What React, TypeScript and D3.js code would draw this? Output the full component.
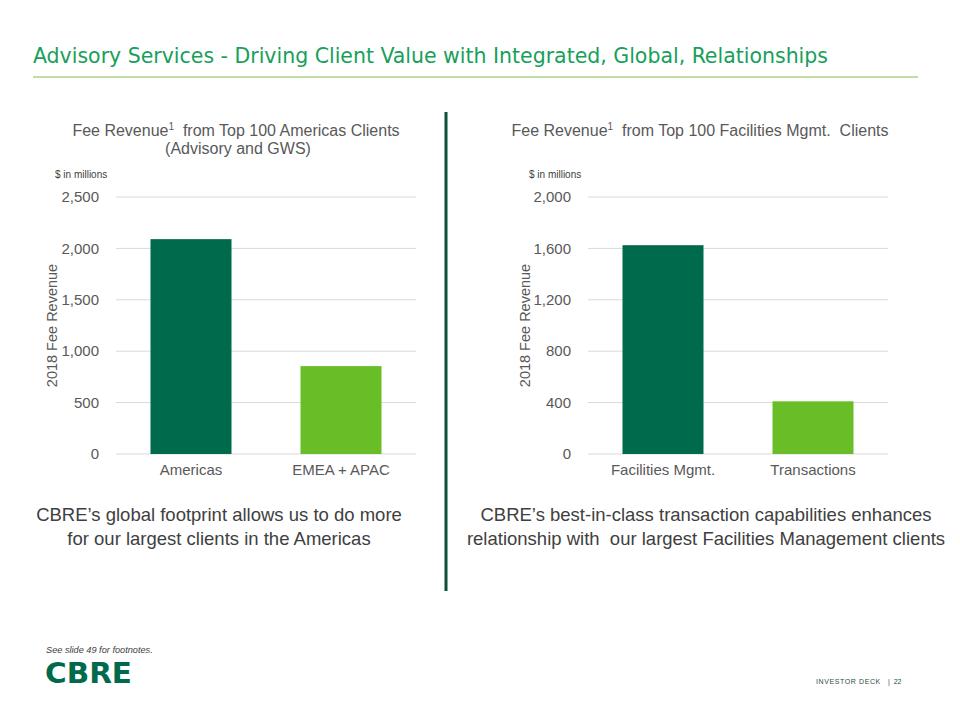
import React from 'react';
import * as d3 from 'd3';

const leftCategories = ['Americas', 'EMEA + APAC'];
const leftValues = [2090, 855];
const leftTicks = [0, 500, 1000, 1500, 2000, 2500];

const rightCategories = ['Facilities Mgmt.', 'Transactions'];
const rightValues = [1625, 410];
const rightTicks = [0, 400, 800, 1200, 1600, 2000];

const barColors = ['#006a4d', '#69be28'];

const font = '"Liberation Sans", Arial, sans-serif';
const gray = '#595959';

type PanelProps = {
    categories: string[];
    values: number[];
    ticks: number[];
    x0: number;
    x1: number;
    axisTitleX: number;
};

const top = 197;
const bottom = 454;

const BarPanel = ({ categories, values, ticks, x0, x1, axisTitleX }: PanelProps) => {
    const xScale = d3.scaleBand<string>()
        .domain(categories)
        .range([x0, x1])
        .paddingInner(0.46)
        .paddingOuter(0.23);

    const yScale = d3.scaleLinear()
        .domain([0, d3.max(ticks) as number])
        .range([bottom, top]);

    const fmt = d3.format(',');

    return (
        <g fontFamily={font}>
            {ticks.map(t => (
                <g key={t}>
                    <line x1={x0} x2={x1} y1={yScale(t)} y2={yScale(t)} stroke="#d9d9d9" strokeWidth={1} />
                    <text x={x0 - 17} y={yScale(t)} dy="0.35em" textAnchor="end" fontSize={15} fill={gray}>
                        {fmt(t)}
                    </text>
                </g>
            ))}
            {categories.map((c, i) => (
                <g key={c}>
                    <rect
                        x={xScale(c)}
                        y={yScale(values[i])}
                        width={xScale.bandwidth()}
                        height={bottom - yScale(values[i])}
                        fill={barColors[i]}
                    />
                    <text
                        x={(xScale(c) as number) + xScale.bandwidth() / 2}
                        y={475}
                        textAnchor="middle"
                        fontSize={15}
                        fill={gray}
                    >
                        {c}
                    </text>
                </g>
            ))}
            <text
                transform={`translate(${axisTitleX}, ${(top + bottom) / 2}) rotate(-90)`}
                dy="0.35em"
                textAnchor="middle"
                fontSize={14.5}
                fill={gray}
            >
                2018 Fee Revenue
            </text>
        </g>
    );
};

const App = () => {
    return (
        <svg width={960} height={720} style={{ position: 'fixed', left: 0, top: 0, background: '#fff' }}>
            <rect width={960} height={720} fill="#fff" />

            {/* slide title */}
            <text
                x={33}
                y={63}
                fontFamily='"DejaVu Sans Condensed", "Liberation Sans Narrow", "Noto Sans", sans-serif'
                fontSize={22}
                fill="#17a05a"
                textLength={795}
                lengthAdjust="spacingAndGlyphs"
            >
                Advisory Services - Driving Client Value with Integrated, Global, Relationships
            </text>
            <line x1={33} x2={918} y1={77} y2={77} stroke="#80bb4e" strokeWidth={1} />

            {/* divider */}
            <line x1={446} x2={446} y1={112} y2={591} stroke="#0d4f3c" strokeWidth={3} />

            {/* chart titles */}
            <g fontFamily={font} fontSize={16} fill={gray} textAnchor="middle">
                <text x={236} y={136}>
                    Fee Revenue<tspan fontSize={10} dy={-6}>1</tspan><tspan dy={6}>{'\u00a0 from Top 100 Americas Clients'}</tspan>
                </text>
                <text x={238} y={154}>(Advisory and GWS)</text>
                <text x={700} y={136}>
                    Fee Revenue<tspan fontSize={10} dy={-6}>1</tspan><tspan dy={6}>{'\u00a0 from Top 100 Facilities Mgmt.\u00a0 Clients'}</tspan>
                </text>
            </g>
            <g fontFamily={font} fontSize={10} fill="#404040">
                <text x={55} y={178}>$ in millions</text>
                <text x={529} y={178}>$ in millions</text>
            </g>

            <BarPanel categories={leftCategories} values={leftValues} ticks={leftTicks} x0={116} x1={416} axisTitleX={52} />
            <BarPanel categories={rightCategories} values={rightValues} ticks={rightTicks} x0={588} x1={888} axisTitleX={525} />

            {/* captions */}
            <g fontFamily={font} fontSize={18.5} fill="#404040" textAnchor="middle">
                <text x={219} y={521}>CBRE’s global footprint allows us to do more</text>
                <text x={219} y={545}>for our largest clients in the Americas</text>
                <text x={706} y={521}>CBRE’s best-in-class transaction capabilities enhances</text>
                <text x={706} y={545}>{'relationship with\u00a0 our largest Facilities Management clients'}</text>
            </g>

            {/* footer */}
            <text x={46} y={653} fontFamily={font} fontSize={9.2} fontStyle="italic" fill="#404040">
                See slide 49 for footnotes.
            </text>
            <text
                x={45}
                y={683}
                fontFamily='"DejaVu Sans", "Liberation Sans", sans-serif'
                fontWeight={900}
                fontSize={29}
                fill="#006a4d"
                textLength={87}
                lengthAdjust="spacingAndGlyphs"
            >
                CBRE
            </text>
            <text x={816} y={684} fontFamily={font} fontSize={7} fill="#1f4e46" letterSpacing={0.6}>
                INVESTOR DECK
            </text>
            <text x={888} y={684} fontFamily={font} fontSize={7} fill="#1f4e46">
                {'|\u00a0 22'}
            </text>
        </svg>
    );
};

export default App;
